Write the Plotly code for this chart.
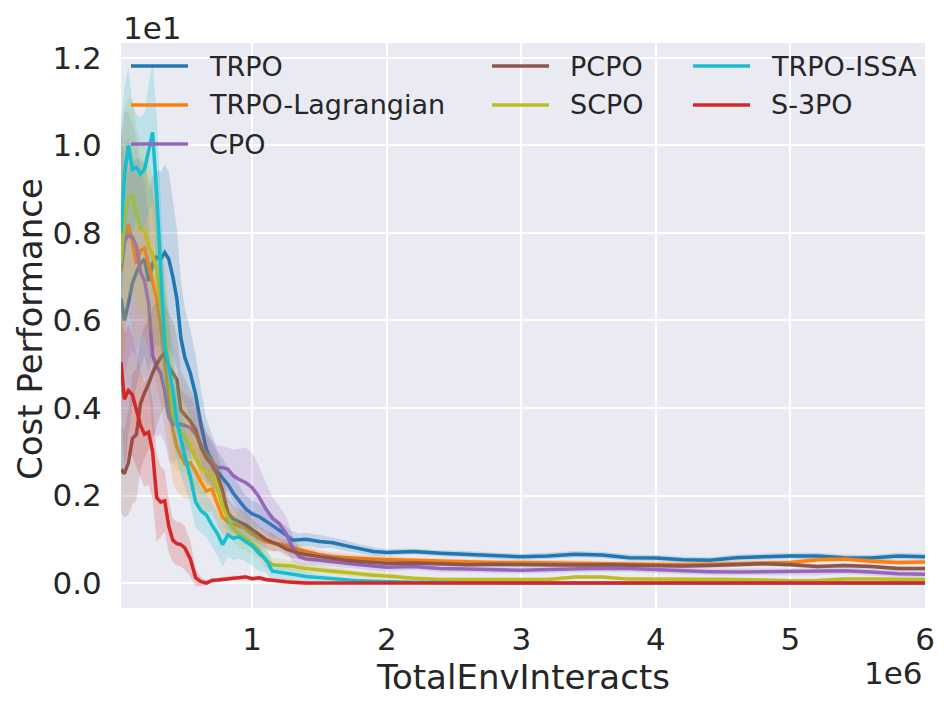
import plotly.graph_objects as go

# shared x grid, in millions of env interactions
steps_m = [0.025, 0.05, 0.08, 0.11, 0.14, 0.17, 0.20, 0.23, 0.26, 0.29, 0.32, 0.35, 0.38,
           0.41, 0.44, 0.47, 0.50, 0.54, 0.58, 0.62, 0.66, 0.70, 0.74, 0.78, 0.82,
           0.86, 0.90, 0.95, 1.00, 1.05, 1.10, 1.15, 1.20, 1.25, 1.30, 1.35, 1.40,
           1.50, 1.60, 1.70, 1.80, 1.90, 2.0,
           2.2, 2.4, 2.6, 2.8, 3.0, 3.2, 3.4, 3.6, 3.8, 4.0, 4.2, 4.4, 4.6, 4.8,
           5.0, 5.2, 5.4, 5.6, 5.8, 6.0]

# mean cost per algorithm
trpo = [6.5, 6.0, 6.4, 6.85, 7.1, 7.3, 7.4, 6.9, 7.3, 7.45, 7.4, 7.55, 7.4,
        7.0, 6.5, 5.6, 5.15, 4.8, 4.3, 3.6, 3.05, 2.8, 2.55, 2.4, 2.25,
        2.05, 1.9, 1.7, 1.58, 1.52, 1.42, 1.32, 1.22, 1.1, 0.98, 0.98, 1.0,
        0.95, 0.92, 0.85, 0.78, 0.72, 0.70,
        0.72, 0.68, 0.66, 0.62, 0.60, 0.62, 0.66, 0.64, 0.58, 0.57, 0.53, 0.52, 0.58, 0.60,
        0.62, 0.62, 0.58, 0.57, 0.62, 0.60]
trpo_lag = [7.1, 7.75, 8.2, 7.8, 7.3, 7.6, 7.65, 7.3, 6.9, 6.5, 5.9, 5.1, 4.3,
            3.5, 3.1, 2.9, 2.72, 2.75, 2.55, 2.3, 2.1, 2.15, 1.8, 1.5, 1.4,
            1.34, 1.3, 1.25, 1.12, 1.02, 0.95, 0.92, 0.9, 0.85, 0.8, 0.76, 0.72,
            0.65, 0.6, 0.58, 0.56, 0.55, 0.54,
            0.52, 0.5, 0.48, 0.47, 0.47, 0.46, 0.46, 0.45, 0.44, 0.43, 0.42, 0.43, 0.45, 0.46,
            0.47, 0.53, 0.55, 0.5, 0.47, 0.48]
cpo = [7.2, 7.8, 7.95, 7.9, 7.7, 7.1, 6.9, 6.4, 5.2, 4.95, 4.8, 4.4, 3.8,
       3.62, 3.65, 3.63, 3.6, 3.55, 3.4, 3.15, 2.92, 2.77, 2.64, 2.64, 2.6,
       2.45, 2.37, 2.3, 2.18, 1.97, 1.7, 1.48, 1.36, 1.14, 0.8, 0.6, 0.55,
       0.52, 0.48, 0.45, 0.42, 0.38, 0.36,
       0.38, 0.33, 0.32, 0.31, 0.29, 0.31, 0.33, 0.34, 0.33, 0.30, 0.28, 0.26, 0.25, 0.26,
       0.25, 0.26, 0.28, 0.25, 0.21, 0.20]
pcpo = [2.6, 2.5, 2.75, 3.3, 3.4, 4.1, 4.35, 4.55, 4.8, 5.0, 5.15, 5.25, 4.95,
        4.8, 4.65, 3.95, 3.85, 3.7, 3.5, 3.1, 2.85, 2.7, 2.48, 2.1, 1.6,
        1.46, 1.4, 1.33, 1.22, 1.1, 1.0, 0.93, 0.87, 0.78, 0.72, 0.68, 0.65,
        0.6, 0.55, 0.52, 0.49, 0.47, 0.45,
        0.46, 0.44, 0.42, 0.43, 0.42, 0.41, 0.41, 0.42, 0.41, 0.39, 0.39, 0.40, 0.42, 0.44,
        0.42, 0.38, 0.40, 0.38, 0.33, 0.33]
scpo = [7.3, 8.3, 8.8, 8.85, 8.4, 8.1, 8.05, 7.7, 7.5, 7.15, 6.3, 5.78, 4.9,
        3.92, 3.6, 3.45, 3.34, 3.15, 2.85, 2.62, 2.54, 2.45, 2.2, 1.75, 1.48,
        1.25, 1.12, 1.0, 0.9, 0.75, 0.52, 0.42, 0.41, 0.41, 0.39, 0.35, 0.33,
        0.30, 0.27, 0.24, 0.2, 0.18, 0.16,
        0.11, 0.08, 0.08, 0.08, 0.08, 0.08, 0.14, 0.14, 0.09, 0.09, 0.1, 0.09, 0.08, 0.07,
        0.05, 0.06, 0.09, 0.09, 0.08, 0.08]
trpo_issa = [8.0, 9.3, 10.0, 9.45, 9.5, 9.35, 9.45, 9.9, 10.3, 8.9, 7.0, 5.4, 4.95,
             4.4, 3.7, 3.25, 2.89, 2.43, 1.85, 1.65, 1.55, 1.33, 1.14, 0.88, 1.1,
             1.02, 1.06, 0.95, 0.85, 0.68, 0.55, 0.27, 0.25, 0.23, 0.2, 0.18, 0.15,
             0.12, 0.1, 0.08, 0.05, 0.04, 0.03,
             0.02, 0.01, 0.0, 0.0, 0.0, 0.0, 0.0, 0.0, 0.0, 0.0, 0.0, 0.0, 0.0, 0.0,
             0.0, 0.0, 0.0, 0.0, 0.0, 0.0]
s3po = [5.05, 4.2, 4.4, 4.3, 3.95, 3.6, 3.4, 3.45, 3.0, 1.95, 1.85, 1.88, 1.3,
        0.98, 0.9, 0.88, 0.8, 0.55, 0.12, 0.03, 0.0, 0.06, 0.07, 0.08, 0.1,
        0.12, 0.12, 0.14, 0.1, 0.12, 0.08, 0.06, 0.05, 0.03, 0.02, 0.01, 0.0,
        0.0, 0.0, 0.0, 0.0, 0.0, 0.0,
        0.0, 0.0, 0.0, 0.0, 0.0, 0.0, 0.0, 0.0, 0.0, 0.0, 0.0, 0.0, 0.0, 0.0,
        0.0, 0.0, 0.0, 0.0, 0.0, 0.0]

# spread (half width of shaded band)
trpo_sd = [4.0, 3.5, 3.0, 2.8, 2.6, 2.4, 2.2, 2.1, 2.0, 2.0, 2.0, 2.0, 2.0,
           1.8, 1.6, 1.3, 1.1, 1.0, 0.9, 0.8, 0.7, 0.6, 0.5, 0.45, 0.4,
           0.4, 0.35, 0.3, 0.3, 0.3, 0.25, 0.25, 0.2, 0.2, 0.2, 0.15, 0.15,
           0.15, 0.12, 0.12, 0.1, 0.1, 0.08] + [0.07] * 20
trpo_lag_sd = [2.5, 2.3, 2.0, 2.0, 2.0, 2.0, 2.0, 2.0, 2.0, 2.0, 1.8, 1.6, 1.4,
               1.2, 1.0, 0.9, 0.8, 0.8, 0.7, 0.6, 0.5, 0.5, 0.45, 0.4, 0.35,
               0.3, 0.3, 0.25, 0.25, 0.2, 0.2, 0.2, 0.15, 0.15, 0.15, 0.12, 0.12,
               0.1, 0.1, 0.1, 0.08, 0.08, 0.08] + [0.06] * 20
cpo_sd = [3.0, 3.0, 2.8, 2.6, 2.5, 2.4, 2.2, 2.0, 1.8, 1.6, 1.4, 1.2, 1.0,
          0.9, 0.8, 0.8, 0.7, 0.7, 0.6, 0.6, 0.5, 0.5, 0.5, 0.5, 0.5,
          0.6, 0.7, 0.8, 0.8, 0.7, 0.6, 0.5, 0.4, 0.4, 0.3, 0.2, 0.15,
          0.12, 0.1, 0.1, 0.1, 0.1, 0.1] + [0.08] * 20
pcpo_sd = [1.0, 1.0, 1.2, 1.5, 1.5, 1.5, 1.5, 1.5, 1.5, 1.4, 1.3, 1.2, 1.2,
           1.2, 1.0, 0.9, 0.8, 0.7, 0.7, 0.7, 0.6, 0.5, 0.5, 0.4, 0.35,
           0.3, 0.3, 0.3, 0.25, 0.2, 0.2, 0.2, 0.15, 0.15, 0.15, 0.12, 0.12,
           0.1, 0.1, 0.1, 0.1, 0.1, 0.1] + [0.05] * 20
scpo_sd = [2.5, 2.5, 2.3, 2.2, 2.0, 2.0, 2.0, 1.9, 1.8, 1.7, 1.6, 1.5, 1.4,
           1.2, 1.0, 0.9, 0.8, 0.8, 0.7, 0.6, 0.5, 0.5, 0.5, 0.4, 0.35,
           0.3, 0.3, 0.25, 0.25, 0.2, 0.2, 0.15, 0.15, 0.12, 0.12, 0.1, 0.1,
           0.08, 0.08, 0.08, 0.08, 0.08, 0.08] + [0.04] * 20
trpo_issa_sd = [2.5, 2.0, 1.8, 1.5, 1.2, 1.3, 1.3, 1.5, 1.6, 1.8, 1.8, 1.5, 1.2,
                1.0, 0.9, 0.8, 0.7, 0.6, 0.6, 0.5, 0.5, 0.5, 0.5, 0.5, 0.5,
                0.5, 0.5, 0.45, 0.45, 0.4, 0.3, 0.2, 0.15, 0.15, 0.12, 0.1, 0.1,
                0.08, 0.06, 0.05, 0.04, 0.03, 0.02] + [0.01] * 20
s3po_sd = [1.0, 1.5, 1.5, 1.4, 1.3, 1.2, 1.2, 1.2, 1.1, 1.0, 0.8, 0.7, 0.6,
           0.5, 0.5, 0.5, 0.5, 0.4, 0.2, 0.1, 0.05, 0.05, 0.05, 0.05, 0.05,
           0.05, 0.05, 0.05, 0.05, 0.05, 0.05, 0.05, 0.05, 0.05, 0.05, 0.05, 0.05,
           0.02, 0.02, 0.02, 0.02, 0.02, 0.02] + [0.0] * 20

names = ["TRPO", "TRPO-Lagrangian", "CPO", "PCPO", "SCPO", "TRPO-ISSA", "S-3PO"]
means = [trpo, trpo_lag, cpo, pcpo, scpo, trpo_issa, s3po]
spreads = [trpo_sd, trpo_lag_sd, cpo_sd, pcpo_sd, scpo_sd, trpo_issa_sd, s3po_sd]
colors = ["#1f77b4", "#ff7f0e", "#9467bd", "#8c564b", "#bcbd22", "#17becf", "#d62728"]

x_ticks = [1, 2, 3, 4, 5, 6]
y_ticks = [0.0, 0.2, 0.4, 0.6, 0.8, 1.0, 1.2]

FONT = "DejaVu Sans"
TXT = "#262626"


def rgba(hex_col, a):
    h = hex_col.lstrip("#")
    return "rgba(%d,%d,%d,%.2f)" % (int(h[0:2], 16), int(h[2:4], 16), int(h[4:6], 16), a)


xs = [v * 1e6 for v in steps_m]

fig = go.Figure()
for name, m, sd, col in zip(names, means, spreads, colors):
    upper = [a + b for a, b in zip(m, sd)]
    lower = [a - b for a, b in zip(m, sd)]
    fig.add_trace(go.Scatter(x=xs, y=upper, mode="lines", line=dict(width=0),
                             showlegend=False, hoverinfo="skip"))
    fig.add_trace(go.Scatter(x=xs, y=lower, mode="lines", line=dict(width=0),
                             fill="tonexty", fillcolor=rgba(col, 0.2),
                             showlegend=False, hoverinfo="skip"))
    fig.add_trace(go.Scatter(x=xs, y=m, mode="lines", name=name,
                             line=dict(color=col, width=3.5), showlegend=False))

# plot area in pixels (for placing the hand drawn legend)
L, R, T, B = 121, 925, 43, 608


def px_x(p):
    return (p - L) / (R - L)


def px_y(p):
    return 1 - (p - T) / (B - T)


# legend laid out in 3 columns like matplotlib ncol=3
col_left = [131, 492, 693]
row_y = [66, 105, 144]
slots = [(0, 0), (0, 1), (0, 2), (1, 0), (1, 1), (2, 0), (2, 1)]
for name, col, (c, r) in zip(names, colors, slots):
    x0 = col_left[c]
    fig.add_shape(type="line", xref="paper", yref="paper",
                  x0=px_x(x0), x1=px_x(x0 + 57), y0=px_y(row_y[r]), y1=px_y(row_y[r]),
                  line=dict(color=col, width=3.5))
    fig.add_annotation(text=name, xref="paper", yref="paper",
                       x=px_x(x0 + 76), y=px_y(row_y[r]), xanchor="left", yanchor="middle",
                       showarrow=False, font=dict(family=FONT, size=27, color=TXT))

# offset labels and axis titles
fig.add_annotation(text="1e1", xref="paper", yref="paper", x=0.0, y=px_y(28),
                   xanchor="left", yanchor="middle", showarrow=False,
                   font=dict(family=FONT, size=31, color=TXT))
fig.add_annotation(text="1e6", xref="paper", yref="paper", x=1.0, y=px_y(673),
                   xanchor="right", yanchor="middle", showarrow=False,
                   font=dict(family=FONT, size=31, color=TXT))
fig.add_annotation(text="TotalEnvInteracts", xref="paper", yref="paper", x=0.5, y=px_y(677),
                   xanchor="center", yanchor="middle", showarrow=False,
                   font=dict(family=FONT, size=34, color=TXT))
fig.add_annotation(text="Cost Performance", xref="paper", yref="paper", x=px_x(30), y=px_y(329),
                   xanchor="center", yanchor="middle", showarrow=False, textangle=-90,
                   font=dict(family=FONT, size=34, color=TXT))

fig.update_layout(
    width=950, height=709,
    margin=dict(l=L, r=950 - R, t=T, b=709 - B),
    paper_bgcolor="white",
    plot_bgcolor="#EAEAF2",
    font=dict(family=FONT, size=31, color=TXT),
    showlegend=False,
)
fig.update_xaxes(
    range=[25000, 6e6],
    tickvals=[v * 1e6 for v in x_ticks], ticktext=[str(v) for v in x_ticks],
    showgrid=True, gridcolor="white", gridwidth=2, zeroline=False,
    ticks="outside", ticklen=4, tickcolor="rgba(0,0,0,0)",
    tickfont=dict(family=FONT, size=31, color=TXT), showline=False,
)
fig.update_yaxes(
    range=[-0.57, 12.34],
    tickvals=[v * 10 for v in y_ticks], ticktext=["%.1f" % v for v in y_ticks],
    showgrid=True, gridcolor="white", gridwidth=2, zeroline=False,
    ticks="outside", ticklen=12, tickcolor="rgba(0,0,0,0)",
    tickfont=dict(family=FONT, size=31, color=TXT), showline=False,
)

# page has a default 8px body margin; drop it so the figure sits at the window corner
fig.write_html("out.html", config={"displayModeBar": False},
               post_script="document.body.style.margin='0';")
